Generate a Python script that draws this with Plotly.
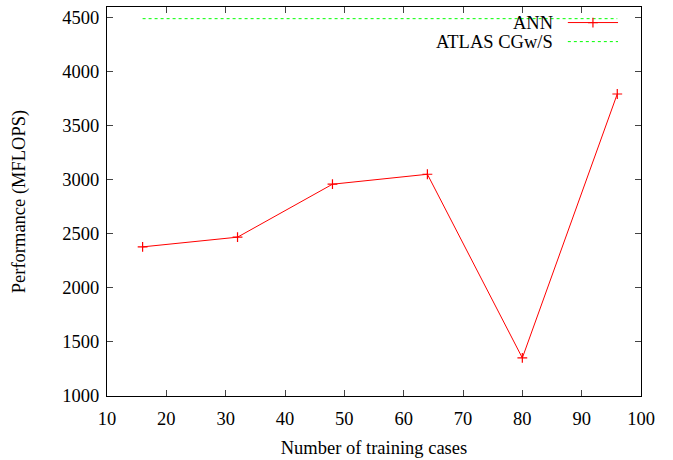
import plotly.graph_objects as go

training_cases = [16, 32, 48, 64, 80, 96]
ann_mflops = [2380, 2470, 2960, 3052, 1352, 3795]
atlas_mflops = [4492, 4492, 4492, 4492, 4492, 4492]

x_ticks = [10, 20, 30, 40, 50, 60, 70, 80, 90, 100]
y_ticks = [1000, 1500, 2000, 2500, 3000, 3500, 4000, 4500]

FONT = "Liberation Serif"
FS = 18.5

fig = go.Figure()
fig.add_trace(go.Scatter(
    x=training_cases, y=ann_mflops, mode="lines+markers", name="ANN",
    line=dict(color="#ff0000", width=1),
    marker=dict(symbol="cross-thin", size=7, line=dict(color="#ff0000", width=1.2)),
    showlegend=False))
fig.add_trace(go.Scatter(
    x=training_cases, y=atlas_mflops, mode="lines", name="ATLAS CGw/S",
    line=dict(color="#00ff00", width=1, dash="3px,3px"),
    showlegend=False))

# gnuplot-style key: right-aligned text, sample to the right
key_x_text = 0.839
key_x0, key_x1 = 0.863, 0.957
key_rows = [("ANN", 0.96, "#ff0000", "solid"), ("ATLAS CGw/S", 0.911, "#00ff00", "3px,3px")]
for label, ky, col, dash in key_rows:
    fig.add_annotation(x=key_x_text, y=ky, xref="paper", yref="paper", text=label,
                       showarrow=False, xanchor="right", yanchor="middle",
                       font=dict(family=FONT, size=FS, color="black"))
    fig.add_shape(type="line", xref="paper", yref="paper", x0=key_x0, x1=key_x1, y0=ky, y1=ky,
                  line=dict(color=col, width=1, dash=dash))
fig.add_trace(go.Scatter(
    x=[(key_x0 + key_x1) / 2], y=[key_rows[0][1]], xaxis="x2", yaxis="y2", mode="markers",
    marker=dict(symbol="cross-thin", size=7, line=dict(color="#ff0000", width=1.2)),
    showlegend=False, hoverinfo="skip"))

fig.update_layout(
    width=673, height=460,
    margin=dict(l=107, r=32, t=6, b=62),
    paper_bgcolor="white", plot_bgcolor="white",
    font=dict(family=FONT, size=FS, color="black"),
    xaxis=dict(range=[10, 100], tickvals=x_ticks, ticks="inside", ticklen=6,
               showline=True, linecolor="black", linewidth=1, mirror="ticks",
               showgrid=False, zeroline=False, ticklabelstandoff=6,
               title=dict(text="Number of training cases", font=dict(family=FONT, size=FS), standoff=12)),
    yaxis=dict(range=[1000, 4600], tickvals=y_ticks, ticks="inside", ticklen=6,
               showline=True, linecolor="black", linewidth=1, mirror="ticks",
               showgrid=False, zeroline=False, ticklabelstandoff=3,
               title=dict(text="Performance (MFLOPS)", font=dict(family=FONT, size=FS), standoff=31)),
    xaxis2=dict(range=[0, 1], overlaying="x", visible=False),
    yaxis2=dict(range=[0, 1], overlaying="y", visible=False),
)

fig.write_html("out.html", config={"displayModeBar": False},
               post_script="document.body.style.margin='0px';")
